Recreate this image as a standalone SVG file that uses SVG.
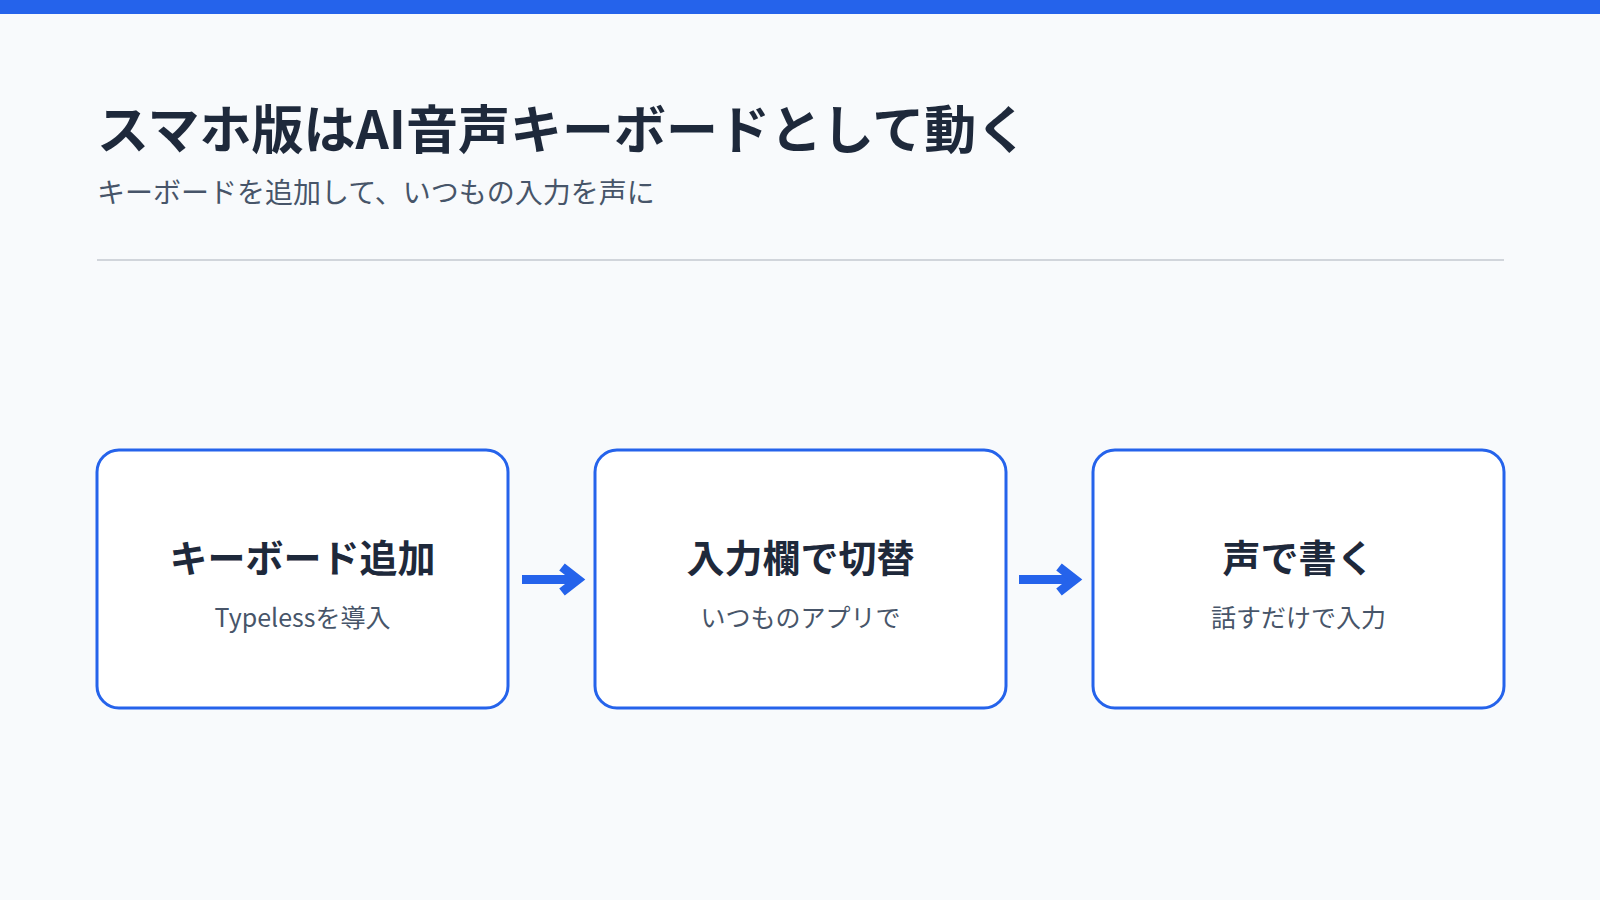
<svg xmlns="http://www.w3.org/2000/svg" width="1600" height="900" viewBox="0 0 1600 900">
<style>
text{font-family:"Noto Sans CJK JP","Noto Sans",sans-serif}
.title{font-size:52px;font-weight:700;fill:#1e293b}
.sub{font-size:28px;fill:#475569}
.box{fill:#ffffff;stroke:#2563eb;stroke-width:3}
.bt{font-size:38px;font-weight:700;fill:#1e293b;text-anchor:middle}
.bs{font-size:25px;fill:#475569;text-anchor:middle}
.arr{fill:none;stroke:#2563eb;stroke-width:9}
</style>
<rect x="0" y="0" width="1600" height="900" fill="#f8fafc"/>
<rect x="0" y="0" width="1600" height="14" fill="#2563eb"/>
<text class="title" x="97" y="149">スマホ版はAI音声キーボードとして動く</text>
<text class="sub" x="97" y="203">キーボードを追加して、いつもの入力を声に</text>
<line x1="97" y1="260" x2="1504" y2="260" stroke="#d1d5db" stroke-width="2"/>
<g id="node1">
<rect class="box" x="97" y="450" width="411" height="258" rx="22"/>
<text class="bt" x="302.5" y="572">キーボード追加</text>
<text class="bs" x="302.5" y="627">Typelessを導入</text>
</g>
<g id="node2">
<rect class="box" x="595" y="450" width="411" height="258" rx="22"/>
<text class="bt" x="800.5" y="572">入力欄で切替</text>
<text class="bs" x="800.5" y="627">いつものアプリで</text>
</g>
<g id="node3">
<rect class="box" x="1093" y="450" width="411" height="258" rx="22"/>
<text class="bt" x="1298.5" y="572">声で書く</text>
<text class="bs" x="1298.5" y="627">話すだけで入力</text>
</g>
<g id="connectors">
<path class="arr" d="M522,579.5 L578,579.5"/>
<path class="arr" d="M562,567 L578,579.5 L562,592" stroke-linejoin="miter"/>
<path class="arr" d="M1019,579.5 L1075,579.5"/>
<path class="arr" d="M1059,567 L1075,579.5 L1059,592" stroke-linejoin="miter"/>
</g>
</svg>
